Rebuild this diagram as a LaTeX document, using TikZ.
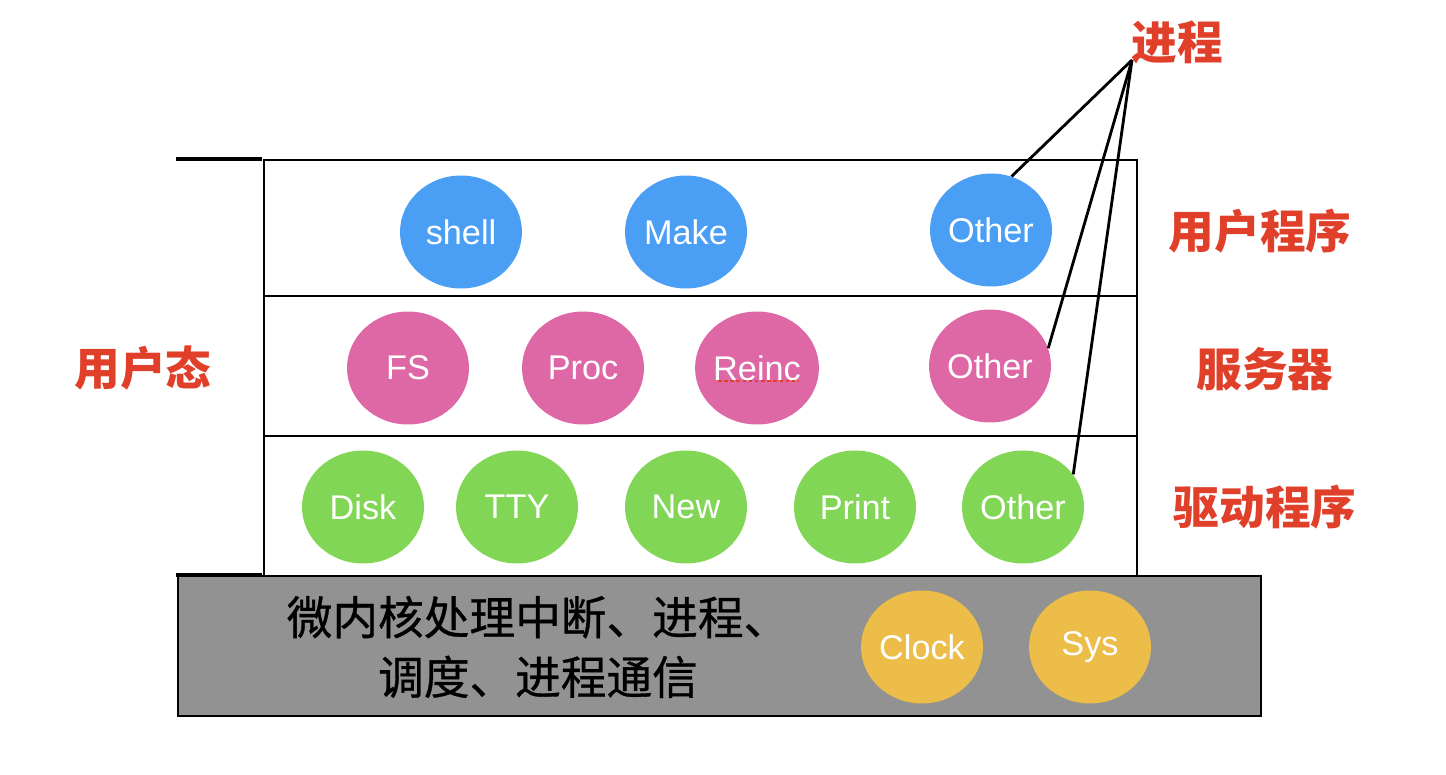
\documentclass[tikz,border=0pt]{standalone}
\usepackage{fontspec}
\setmainfont{Liberation Sans}
\newfontfamily\cjk{Noto Sans CJK SC}
\newfontfamily\cjkm{Noto Sans CJK SC}[FakeBold=0.7]
\usetikzlibrary{shapes.geometric}
\definecolor{cblue}{HTML}{4A9FF5}
\definecolor{cpink}{HTML}{DE68A6}
\definecolor{cgreen}{HTML}{82D655}
\definecolor{cyellow}{HTML}{EDBD4A}
\definecolor{cgray}{HTML}{929292}
\definecolor{cred}{HTML}{E0402A}
\tikzset{
  proc/.style={ellipse, minimum width=2.44cm, minimum height=2.26cm, inner sep=0pt, text=white, font=\fontsize{19.5}{22}\selectfont},
  pblue/.style={proc, fill=cblue},
  ppink/.style={proc, fill=cpink},
  pgreen/.style={proc, fill=cgreen},
  pyellow/.style={proc, fill=cyellow},
  redlabel/.style={text=cred, font=\cjk\bfseries\fontsize{26}{30}\selectfont},
  layer/.style={draw=black, line width=0.9pt},
  link/.style={draw=black, line width=1.6pt},
}
\begin{document}
\begin{tikzpicture}[x=0.02cm, y=-0.02cm]
\useasboundingbox (0,0) rectangle (1446,774);
% layer boxes
\draw[layer] (264,160) rectangle (1137,576);
\draw[layer] (264,296) -- (1137,296);
\draw[layer] (264,436) -- (1137,436);
% short ticks
\draw[line width=2.4pt] (176,159) -- (262,159);
\draw[line width=2.4pt] (176,575) -- (262,575);
% kernel box
\draw[fill=cgray, line width=1.2pt] (178,576) rectangle (1261,716);
% user programs
\node[pblue] (shell) at (461,232) {shell};
\node[pblue] (make) at (686,232) {Make};
\node[pblue] (uother) at (991,230) {Other};
% servers
\node[ppink] (fs) at (408,368) {FS};
\node[ppink] (proc) at (583,368) {Proc};
\node[ppink] (reinc) at (757,368) {Reinc};
\node[ppink] (sother) at (990,366) {Other};
\draw[cred, line width=1.3pt, dash pattern=on 2pt off 1.5pt] (718,381) -- (799,381);
% drivers
\node[pgreen] (disk) at (363,507) {Disk};
\node[pgreen] (tty) at (517,507) {TTY};
\node[pgreen] (new) at (686,507) {New};
\node[pgreen] (print) at (855,507) {Print};
\node[pgreen] (dother) at (1023,507) {Other};
% kernel
\node[pyellow] (clock) at (922,647) {Clock};
\node[pyellow] (sys) at (1090,647) {Sys};
\node[font=\cjkm\fontsize{26}{34}\selectfont, align=center] (kern) at (538,647) {微内核处理中断、进程、\\调度、进程通信};
% labels
\node[redlabel] (jc) at (1177,42) {进程};
\node[redlabel] (yh) at (1260,231) {用户程序};
\node[redlabel] (fw) at (1265,369) {服务器};
\node[redlabel] (qd) at (1265,507) {驱动程序};
\node[redlabel] (yht) at (143,368) {用户态};
\coordinate (jcp) at (1132,60);
\draw[link] (jcp) -- (uother.69);
\draw[link] (jcp) -- (sother.17);
\draw[link] (jcp) -- (dother.33);
\end{tikzpicture}
\end{document}
